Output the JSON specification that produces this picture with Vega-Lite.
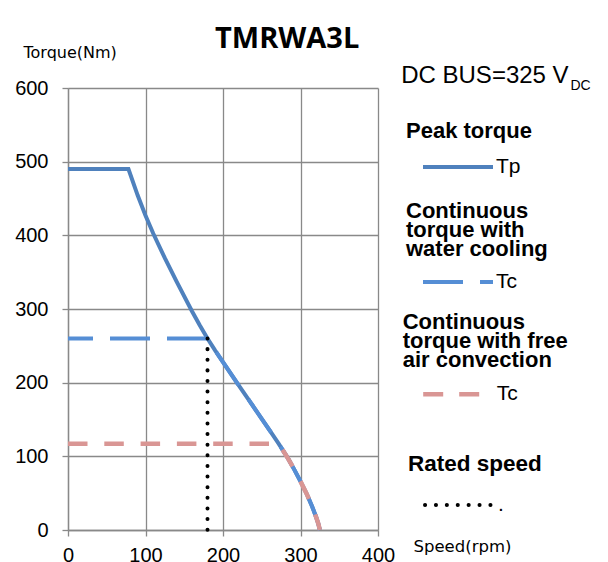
{
  "$schema": "https://vega.github.io/schema/vega-lite/v6.json",
  "width": 310,
  "height": 442,
  "autosize": {"type": "none"},
  "padding": {"left": 68, "top": 88, "right": 230, "bottom": 32},
  "background": "white",
  "config": {"view": {"stroke": null}, "font": "Liberation Sans"},
  "title": {"text": "TMRWA3L", "anchor": "start", "frame": "group", "dx": 147, "offset": -33, "baseline": "alphabetic", "font": "Open Sans", "fontSize": 29, "fontWeight": "bold", "color": "black"},
  "data": {"values": [
    {"group": "peak", "label": "Tp", "speed": 0, "torque": 490},
    {"group": "peak", "label": "Tp", "speed": 78, "torque": 490},
    {"group": "peak", "label": "Tp", "speed": 90, "torque": 454},
    {"group": "peak", "label": "Tp", "speed": 100, "torque": 427},
    {"group": "peak", "label": "Tp", "speed": 110, "torque": 402.5},
    {"group": "peak", "label": "Tp", "speed": 125, "torque": 369},
    {"group": "peak", "label": "Tp", "speed": 140, "torque": 337.5},
    {"group": "peak", "label": "Tp", "speed": 160, "torque": 297},
    {"group": "peak", "label": "Tp", "speed": 170, "torque": 278},
    {"group": "peak", "label": "Tp", "speed": 180, "torque": 260},
    {"group": "peak", "label": "Tp", "speed": 190, "torque": 243.5},
    {"group": "peak", "label": "Tp", "speed": 200, "torque": 228},
    {"group": "peak", "label": "Tp", "speed": 219, "torque": 198.5},
    {"group": "peak", "label": "Tp", "speed": 235, "torque": 174},
    {"group": "peak", "label": "Tp", "speed": 250, "torque": 151},
    {"group": "peak", "label": "Tp", "speed": 262, "torque": 132.5},
    {"group": "peak", "label": "Tp", "speed": 272, "torque": 117},
    {"group": "peak", "label": "Tp", "speed": 284, "torque": 97},
    {"group": "peak", "label": "Tp", "speed": 292, "torque": 82},
    {"group": "peak", "label": "Tp", "speed": 300, "torque": 66},
    {"group": "peak", "label": "Tp", "speed": 308, "torque": 49},
    {"group": "peak", "label": "Tp", "speed": 315, "torque": 32},
    {"group": "peak", "label": "Tp", "speed": 320, "torque": 18},
    {"group": "peak", "label": "Tp", "speed": 323, "torque": 8.5},
    {"group": "peak", "label": "Tp", "speed": 325, "torque": 0},
    {"group": "water", "label": "Tc", "speed": 0, "torque": 260},
    {"group": "water", "label": "Tc", "speed": 180, "torque": 260},
    {"group": "water", "label": "Tc", "speed": 190, "torque": 243.5},
    {"group": "water", "label": "Tc", "speed": 200, "torque": 228},
    {"group": "water", "label": "Tc", "speed": 219, "torque": 198.5},
    {"group": "water", "label": "Tc", "speed": 235, "torque": 174},
    {"group": "water", "label": "Tc", "speed": 250, "torque": 151},
    {"group": "water", "label": "Tc", "speed": 262, "torque": 132.5},
    {"group": "water", "label": "Tc", "speed": 272, "torque": 117},
    {"group": "water", "label": "Tc", "speed": 284, "torque": 97},
    {"group": "water", "label": "Tc", "speed": 292, "torque": 82},
    {"group": "water", "label": "Tc", "speed": 300, "torque": 66},
    {"group": "water", "label": "Tc", "speed": 308, "torque": 49},
    {"group": "water", "label": "Tc", "speed": 315, "torque": 32},
    {"group": "water", "label": "Tc", "speed": 320, "torque": 18},
    {"group": "water", "label": "Tc", "speed": 323, "torque": 8.5},
    {"group": "water", "label": "Tc", "speed": 325, "torque": 0},
    {"group": "air", "label": "Tc", "speed": 0, "torque": 117},
    {"group": "air", "label": "Tc", "speed": 272, "torque": 117},
    {"group": "air", "label": "Tc", "speed": 284, "torque": 97},
    {"group": "air", "label": "Tc", "speed": 292, "torque": 82},
    {"group": "air", "label": "Tc", "speed": 300, "torque": 66},
    {"group": "air", "label": "Tc", "speed": 308, "torque": 49},
    {"group": "air", "label": "Tc", "speed": 315, "torque": 32},
    {"group": "air", "label": "Tc", "speed": 320, "torque": 18},
    {"group": "air", "label": "Tc", "speed": 323, "torque": 8.5},
    {"group": "air", "label": "Tc", "speed": 325, "torque": 0},
    {"group": "rated", "label": ".", "speed": 180, "torque": 260},
    {"group": "rated", "label": ".", "speed": 180, "torque": 0}
  ]},
  "encoding": {
    "x": {"field": "speed", "type": "quantitative", "scale": {"domain": [0, 400], "nice": false},
      "axis": {"orient": "bottom", "values": [0, 100, 200, 300, 400], "grid": true, "gridColor": "#898989", "gridWidth": 1.3,
        "domainColor": "#898989", "domainWidth": 1.3, "tickColor": "#898989", "tickWidth": 1.3, "tickSize": 6,
        "labelFont": "Liberation Sans", "labelFontSize": 20, "labelColor": "black", "labelPadding": 9, "labelFlush": false, "labelOverlap": false,
        "title": "Speed(rpm)", "titleFont": "DejaVu Sans", "titleFontSize": 16.5, "titleFontWeight": "normal", "titleColor": "black",
        "titleAlign": "left", "titleBaseline": "alphabetic", "titleX": 345, "titleY": 21}},
    "y": {"field": "torque", "type": "quantitative", "scale": {"domain": [0, 600], "nice": false},
      "axis": {"orient": "left", "values": [0, 100, 200, 300, 400, 500, 600], "grid": true, "gridColor": "#898989", "gridWidth": 1.3,
        "domainColor": "#898989", "domainWidth": 1.3, "tickColor": "#898989", "tickWidth": 1.3, "tickSize": 6,
        "labelFont": "Liberation Sans", "labelFontSize": 20, "labelColor": "black", "labelPadding": 14, "labelOverlap": false,
        "title": "Torque(Nm)", "titleFont": "DejaVu Sans", "titleFontSize": 16, "titleFontWeight": "normal", "titleColor": "black",
        "titleAngle": 0, "titleAlign": "left", "titleBaseline": "alphabetic", "titleX": -45, "titleY": -31}}
  },
  "layer": [
    {
      "layer": [
        {
          "transform": [{"filter": "datum.group === 'peak'"}],
          "mark": {"type": "line", "strokeWidth": 4, "clip": false},
          "encoding": {"color": {"field": "label", "type": "nominal", "scale": {"domain": ["Tp"], "range": ["#4F81BD"]},
            "legend": {"orient": "none", "legendX": 338, "legendY": 33, "padding": 0,
              "title": "Peak torque", "titleFont": "Liberation Sans", "titleFontSize": 22, "titleFontWeight": "bold", "titleColor": "black", "titleLineHeight": 19, "titleLimit": 400, "titlePadding": -13,
              "labelFont": "Liberation Sans", "labelFontSize": 21, "labelColor": "black", "labelOffset": 1,
              "symbolType": "stroke", "symbolSize": 4900, "symbolStrokeWidth": 4, "symbolOffset": 15}}}
        },
        {
          "transform": [{"filter": "datum.group === 'water'"}],
          "mark": {"type": "line", "strokeWidth": 4, "strokeDash": [40, 17], "strokeDashOffset": 15, "clip": false},
          "encoding": {"color": {"field": "label", "type": "nominal", "scale": {"domain": ["Tc"], "range": ["#558ED5"]},
            "legend": {"orient": "none", "legendX": 338, "legendY": 113, "padding": 0,
              "title": ["Continuous", "torque with", "water cooling"], "titleFont": "Liberation Sans", "titleFontSize": 22, "titleFontWeight": "bold", "titleColor": "black", "titleLineHeight": 19, "titleLimit": 400, "titlePadding": -16,
              "labelFont": "Liberation Sans", "labelFontSize": 21, "labelColor": "black", "labelOffset": 1,
              "symbolType": "stroke", "symbolSize": 4900, "symbolStrokeWidth": 4, "symbolDash": [40, 17], "symbolOffset": 15}}}
        },
        {
          "transform": [{"filter": "datum.group === 'air'"}],
          "mark": {"type": "line", "strokeWidth": 4.5, "strokeDash": [19.5, 16.8], "clip": false},
          "encoding": {"color": {"field": "label", "type": "nominal", "scale": {"domain": ["Tc"], "range": ["#D99694"]},
            "legend": {"orient": "none", "legendX": 334.7, "legendY": 223.7, "padding": 0,
              "title": ["Continuous", "torque with free", "air convection"], "titleFont": "Liberation Sans", "titleFontSize": 22, "titleFontWeight": "bold", "titleColor": "black", "titleLineHeight": 19, "titleLimit": 400, "titlePadding": -15,
              "labelFont": "Liberation Sans", "labelFontSize": 21, "labelColor": "black", "labelOffset": 1,
              "symbolType": "stroke", "symbolSize": 4900, "symbolStrokeWidth": 4.5, "symbolDash": [20, 16, 20, 14], "symbolOffset": 18}}}
        }
      ],
      "resolve": {"scale": {"color": "independent"}, "legend": {"color": "independent"}}
    },
    {
      "transform": [{"filter": "datum.group === 'rated'"}],
      "mark": {"type": "line", "strokeWidth": 4, "strokeCap": "round", "strokeDash": [0.05, 10.57], "clip": false},
      "encoding": {
        "x": {"field": "speed", "type": "quantitative", "scale": {"domain": [0, 400], "nice": false},
          "axis": {"orient": "top", "labels": false, "ticks": false, "domain": false, "grid": false,
            "title": "DC BUS=325 V", "titleFont": "Liberation Sans", "titleFontSize": 24, "titleFontWeight": "normal", "titleColor": "black",
            "titleAngle": 0, "titleAlign": "left", "titleBaseline": "alphabetic", "titleX": 332.7, "titleY": -5.7}},
        "y": {"field": "torque", "type": "quantitative", "scale": {"domain": [0, 600], "nice": false},
          "axis": {"orient": "right", "labels": false, "ticks": false, "domain": false, "grid": false,
            "title": "DC", "titleFont": "Liberation Sans", "titleFontSize": 14, "titleFontWeight": "normal", "titleColor": "black",
            "titleAngle": 0, "titleAlign": "left", "titleBaseline": "alphabetic", "titleX": 192, "titleY": 1.3}},
        "color": {"field": "label", "type": "nominal", "scale": {"domain": ["."], "range": ["black"]},
          "legend": {"orient": "none", "legendX": 340, "legendY": 365.4, "padding": 0,
            "title": "Rated speed", "titleFont": "Liberation Sans", "titleFontSize": 22.5, "titleFontWeight": "bold", "titleColor": "black", "titleLimit": 400, "titlePadding": -8,
            "labelFont": "Liberation Sans", "labelFontSize": 21, "labelColor": "black", "labelOffset": 1,
            "symbolType": "stroke", "symbolSize": 4900, "symbolStrokeWidth": 4, "symbolDash": [0.1, 10.8], "symbolOffset": 15,
            "encode": {"symbols": {"update": {"strokeCap": {"value": "round"}}}}}}
      }
    }
  ],
  "resolve": {"scale": {"color": "independent"}, "legend": {"color": "independent"}, "axis": {"x": "independent", "y": "independent"}}
}
